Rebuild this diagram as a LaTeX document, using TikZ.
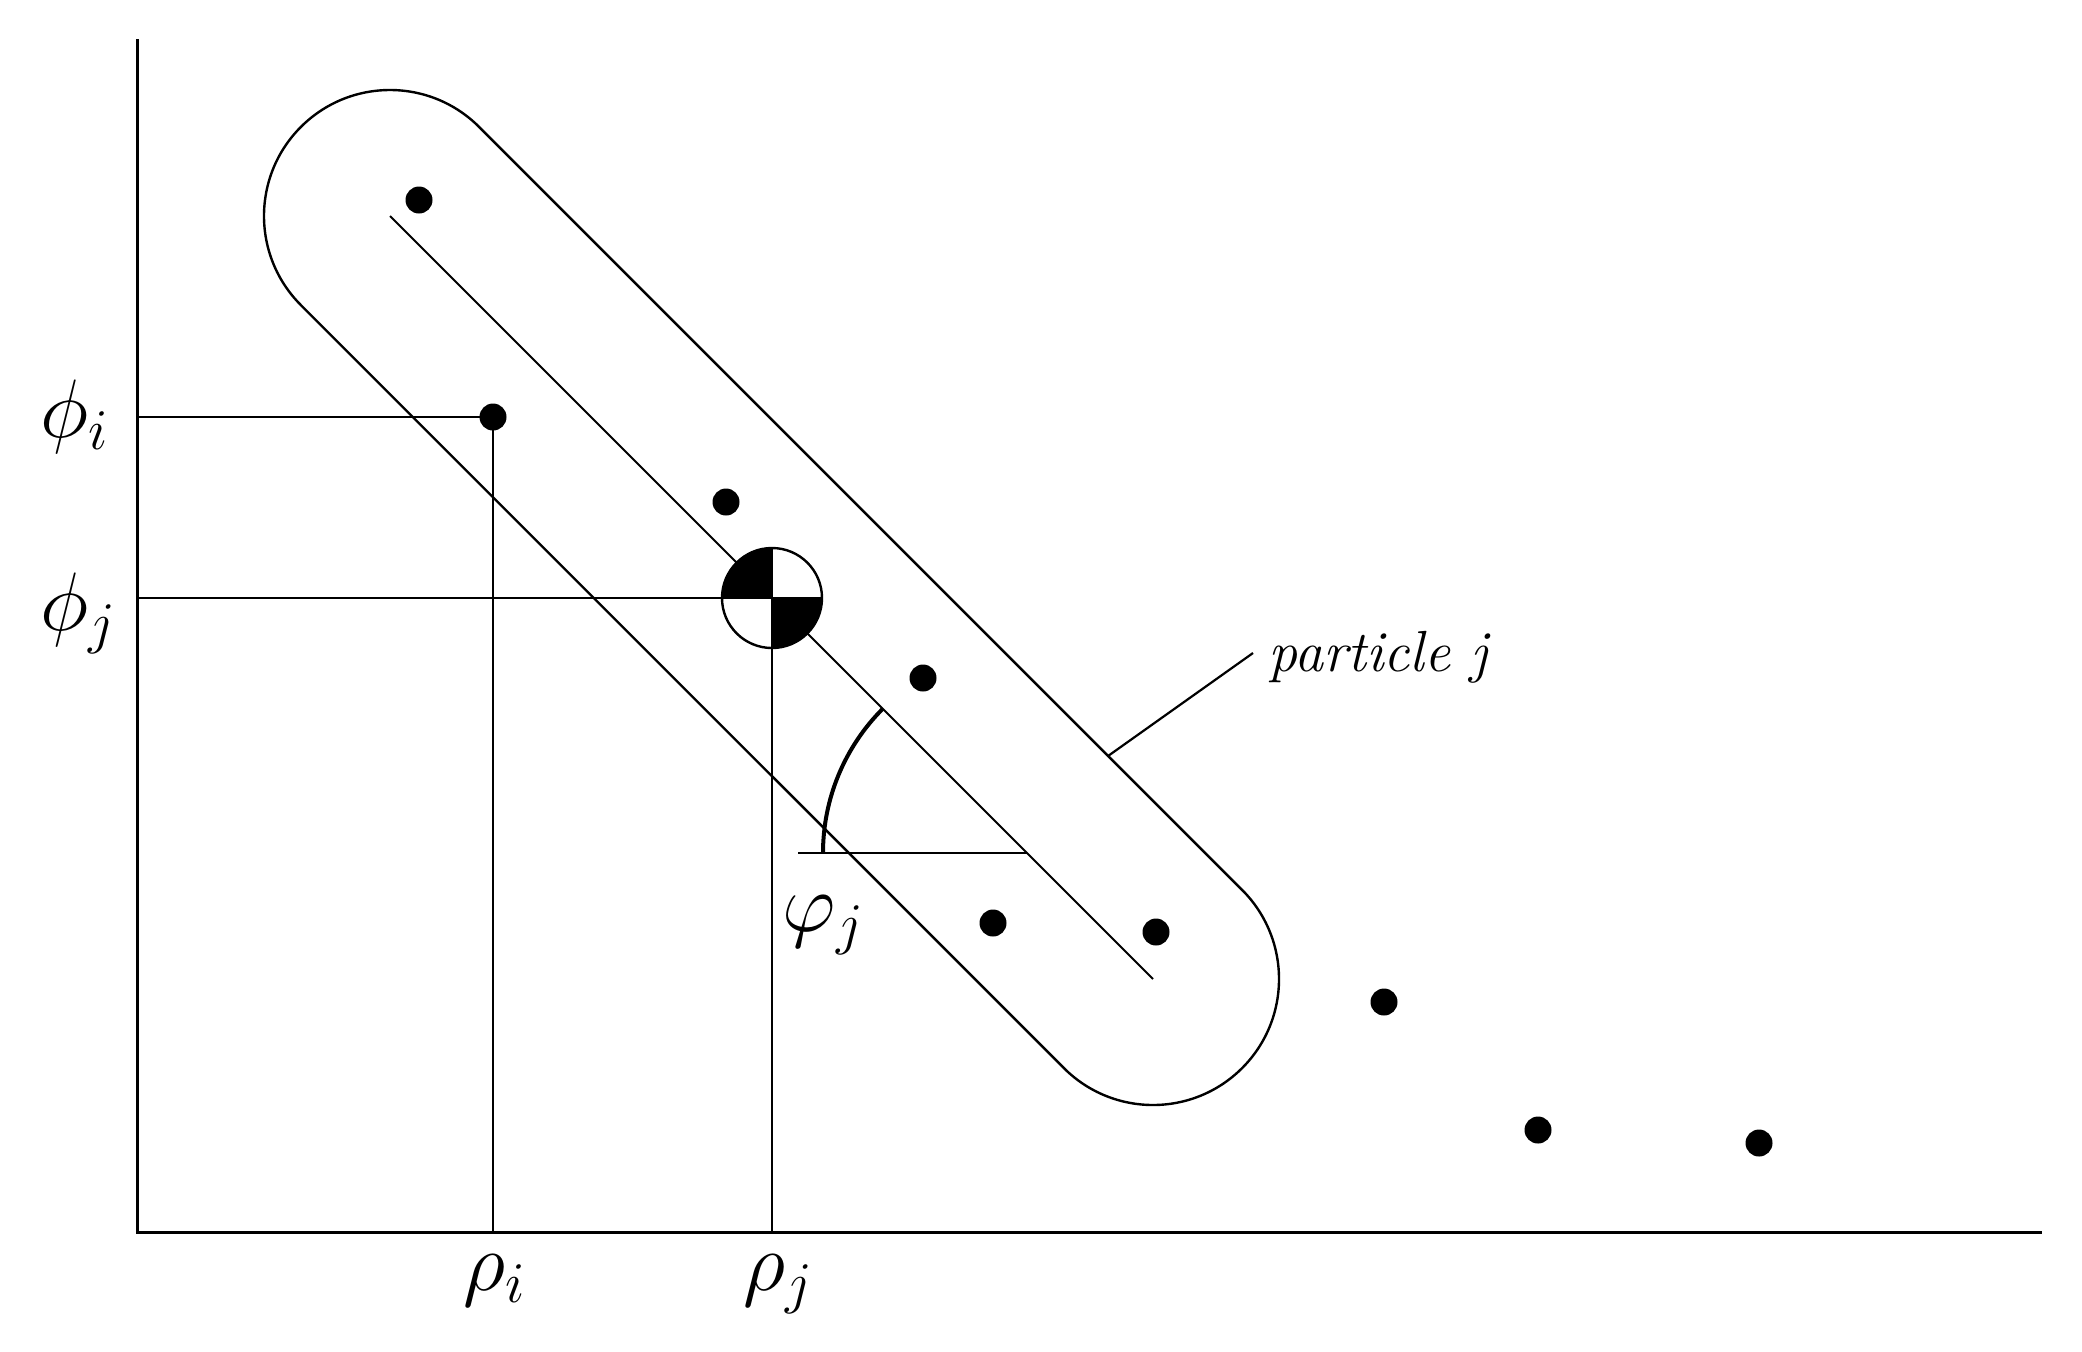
\documentclass[tikz,border=0pt]{standalone}
\usetikzlibrary{calc}
\begin{document}
\begin{tikzpicture}[x=0.5pt,y=-0.5pt,
  axis/.style={line width=1.5pt,line cap=rect},
  guide/.style={line width=1.1pt},
  outline/.style={line width=1.2pt},
  midline/.style={line width=0.9pt},
  anglearc/.style={line width=2pt},
  dot/.style={circle,fill=black,inner sep=0pt,minimum size=13.5pt},
  lbl/.style={inner sep=0pt,scale=2,font=\fontsize{20}{24}\selectfont},
  smalllbl/.style={inner sep=0pt,font=\fontsize{29}{34}\selectfont}]
\useasboundingbox (0,0) rectangle (2082,1351);
% axes
\coordinate (O) at (137,1232);
\coordinate (Ytop) at (137,40);
\coordinate (Xend) at (2040,1232);
\draw[axis] (Ytop) -- (O) -- (Xend);
% key points
\coordinate (A) at (390,216);
\coordinate (B) at (1153,979);
\coordinate (C) at (772,598);
\coordinate (V) at (1027,853);
% stadium outline
\draw[outline] ($(A)+(89.1,-89.1)$) -- ($(B)+(89.1,-89.1)$)
  arc[start angle=-45,end angle=135,radius=126]
  -- ($(A)+(-89.1,89.1)$)
  arc[start angle=135,end angle=315,radius=126] -- cycle;
% centre line
\draw[midline] (A) -- (B);
% dots
\node[dot] (d1) at (419,200) {};
\node[dot] (d2) at (493,417) {};
\node[dot] (d3) at (726,502) {};
\node[dot] (d4) at (923,678) {};
\node[dot] (d5) at (993,923) {};
\node[dot] (d6) at (1156,932) {};
\node[dot] (d7) at (1384,1002) {};
\node[dot] (d8) at (1538,1130) {};
\node[dot] (d9) at (1759,1143) {};
% projection lines
\coordinate (Yi) at (137,417);
\coordinate (Xi) at (493,1232);
\coordinate (Yj) at (137,598);
\coordinate (Xj) at (772,1232);
\draw[guide] (Yi) -- (d2.center) -- (Xi);
\draw[guide] (Yj) -- ($(C)+(50,0)$);
\draw[guide] ($(C)+(0,-50)$) -- (Xj);
% centroid symbol
\fill (C) -- ++(180:50) arc[start angle=180,end angle=270,radius=50] -- cycle;
\fill (C) -- ++(0:50) arc[start angle=0,end angle=90,radius=50] -- cycle;
\draw[outline] (C) circle[radius=50];
% angle
\coordinate (H) at (798,853);
\draw[guide] (H) -- (V);
\draw[anglearc] ($(V)+(-204,0)$) arc[start angle=180,end angle=225,radius=204];
% leader
\coordinate (L1) at (1108,756);
\node[smalllbl,anchor=base west] (pj) at (1268,671) {\itshape particle j};
\draw[guide] (L1) -- (1253,653);
% labels
\node[lbl,anchor=base west] (phii) at (40,437) {$\phi_i$};
\node[lbl,anchor=base west] (phij) at (40,630) {$\phi_j$};
\node[lbl,anchor=base west] (rhoi) at (463,1290) {$\rho_i$};
\node[lbl,anchor=base west] (rhoj) at (743,1290) {$\rho_j$};
\node[lbl,anchor=base west] (varphij) at (782,931) {$\varphi_j$};
\end{tikzpicture}
\end{document}
